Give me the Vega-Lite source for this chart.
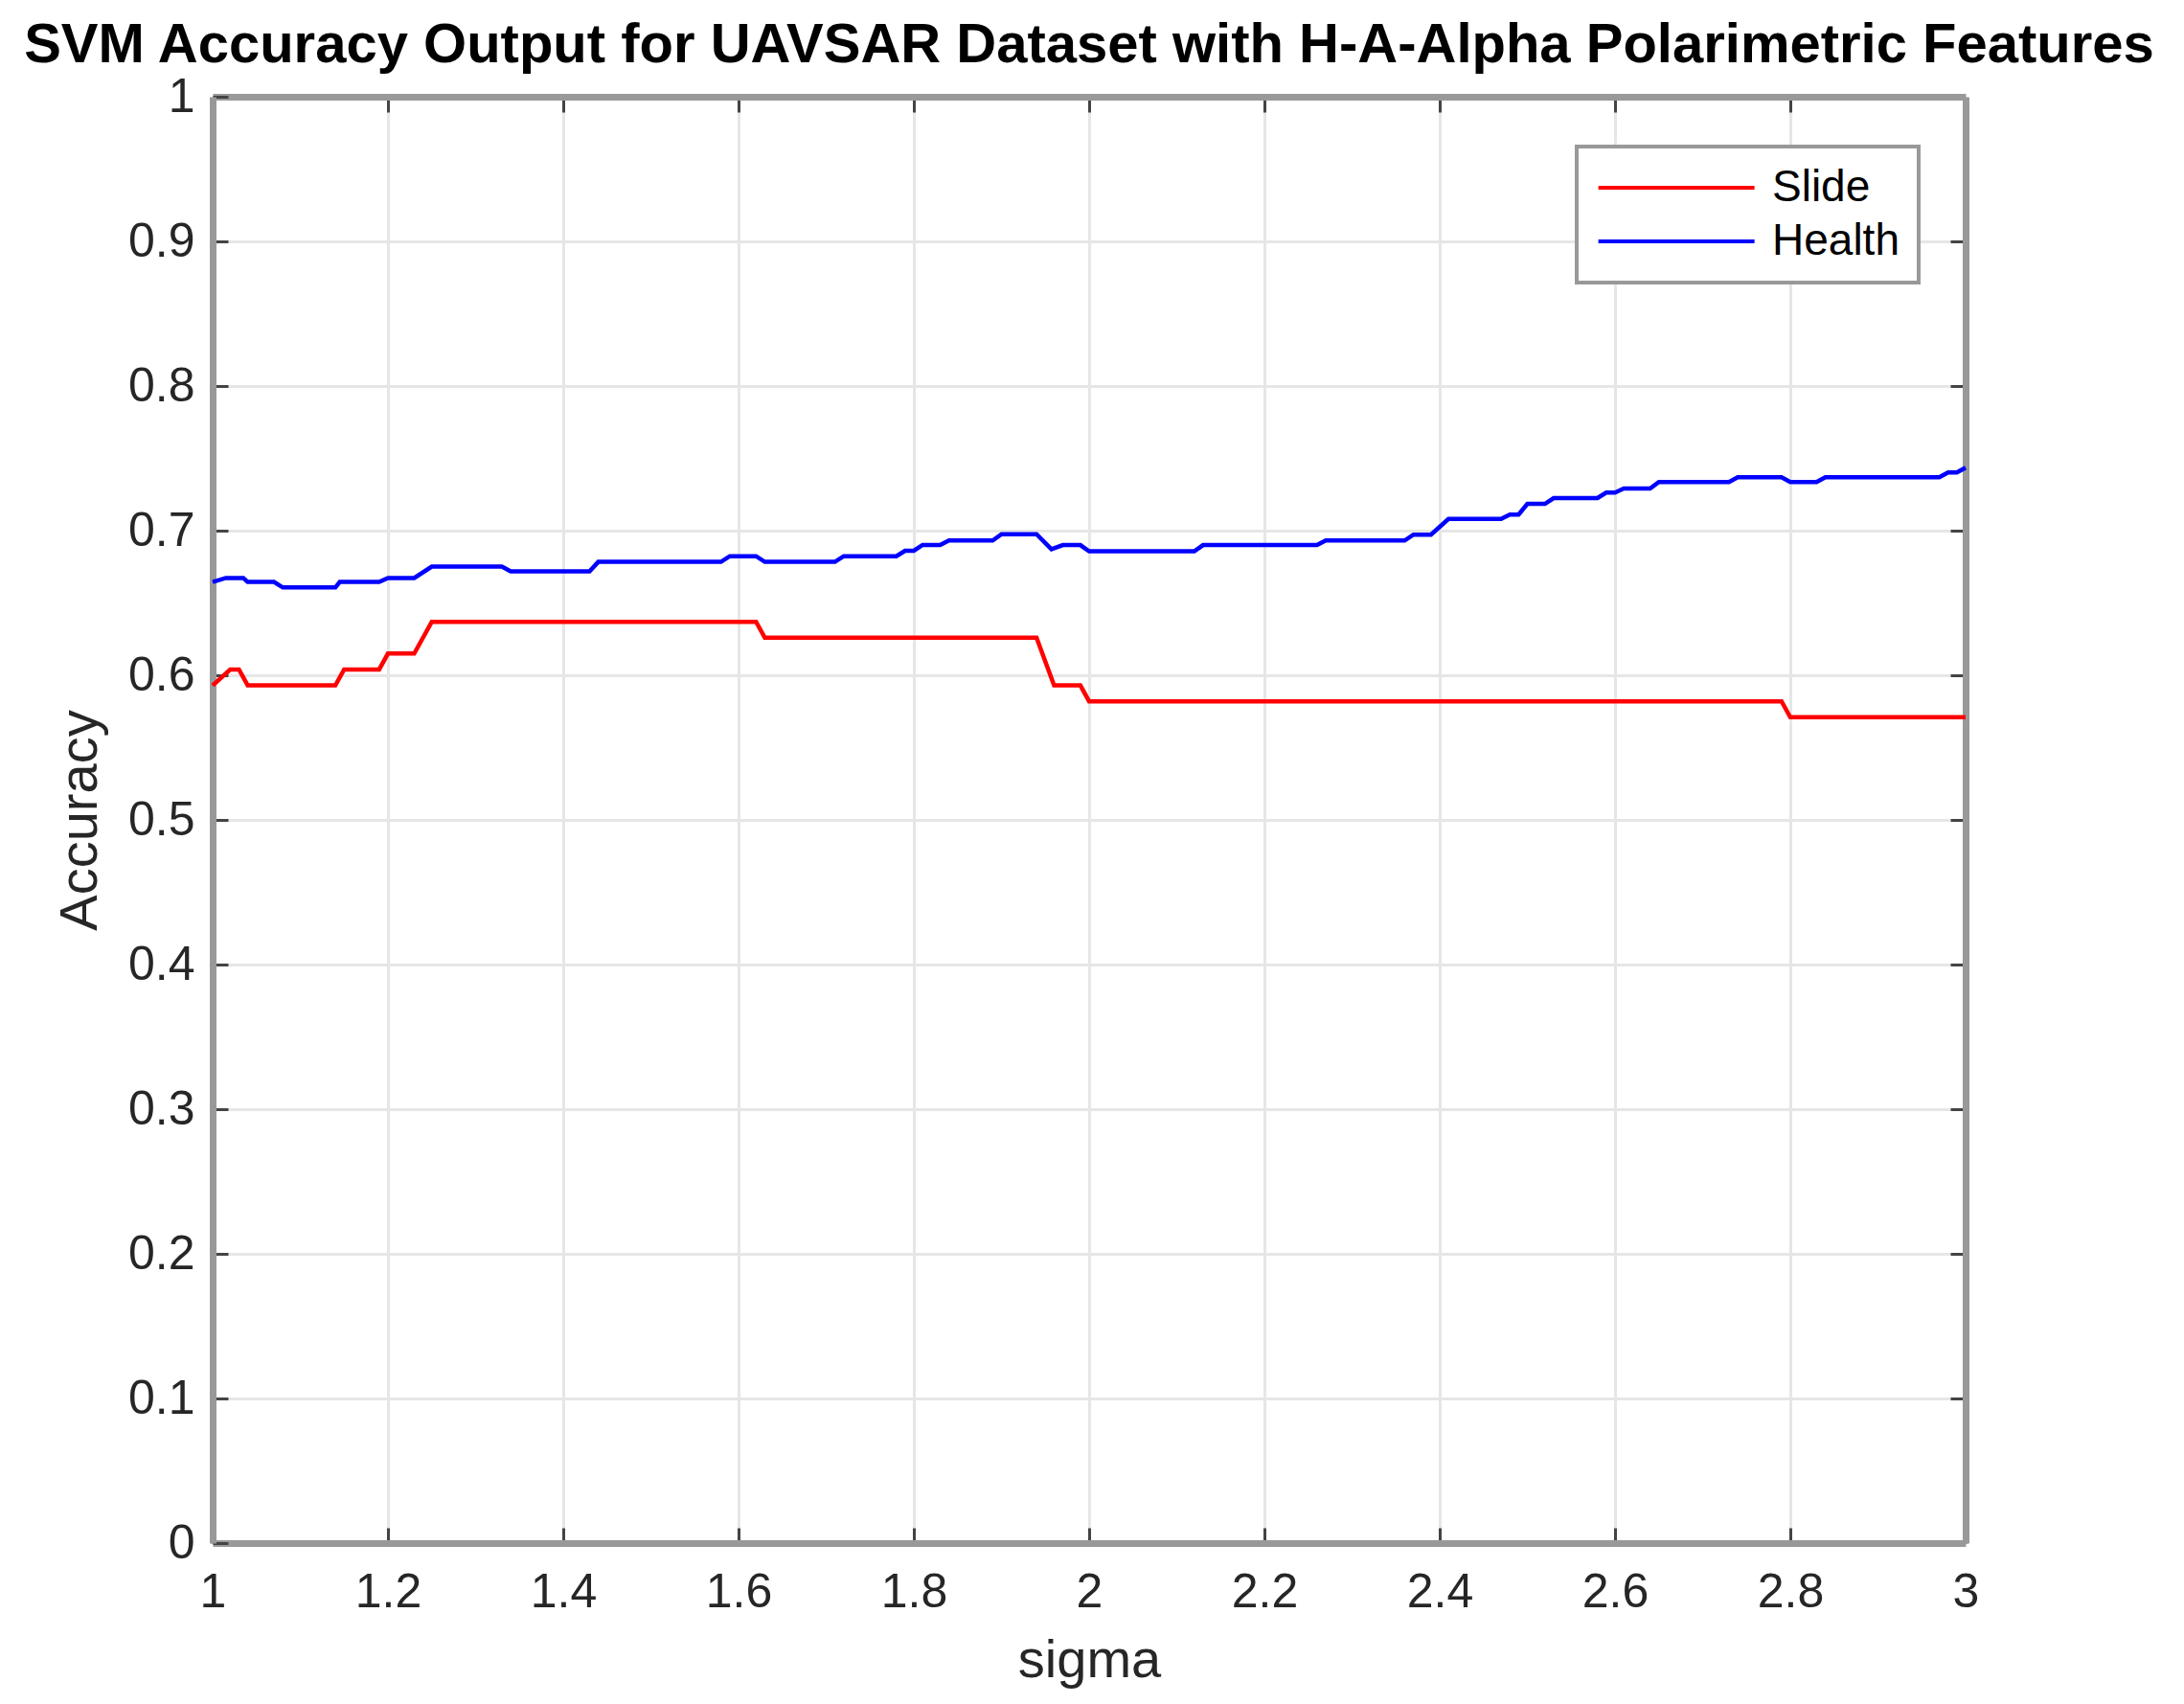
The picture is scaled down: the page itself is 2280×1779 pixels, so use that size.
{
  "$schema": "https://vega.github.io/schema/vega-lite/v6.json",
  "width": 1830,
  "height": 1510,
  "autosize": {"type": "none"},
  "padding": {"left": 222, "top": 101, "right": 228, "bottom": 168},
  "background": "white",
  "title": {
    "text": "SVM Accuracy Output for UAVSAR Dataset with H-A-Alpha Polarimetric Features",
    "font": "Liberation Sans",
    "fontSize": 58,
    "fontWeight": "bold",
    "color": "#000000",
    "anchor": "middle",
    "baseline": "alphabetic",
    "offset": -47
  },
  "data": {
    "values": [
      {"sigma": 1.00, "acc": 0.593, "series": "Slide"},
      {"sigma": 1.02, "acc": 0.604, "series": "Slide"},
      {"sigma": 1.03, "acc": 0.604, "series": "Slide"},
      {"sigma": 1.04, "acc": 0.593, "series": "Slide"},
      {"sigma": 1.14, "acc": 0.593, "series": "Slide"},
      {"sigma": 1.15, "acc": 0.604, "series": "Slide"},
      {"sigma": 1.19, "acc": 0.604, "series": "Slide"},
      {"sigma": 1.20, "acc": 0.615, "series": "Slide"},
      {"sigma": 1.23, "acc": 0.615, "series": "Slide"},
      {"sigma": 1.25, "acc": 0.637, "series": "Slide"},
      {"sigma": 1.62, "acc": 0.637, "series": "Slide"},
      {"sigma": 1.63, "acc": 0.626, "series": "Slide"},
      {"sigma": 1.94, "acc": 0.626, "series": "Slide"},
      {"sigma": 1.96, "acc": 0.593, "series": "Slide"},
      {"sigma": 1.99, "acc": 0.593, "series": "Slide"},
      {"sigma": 2.00, "acc": 0.582, "series": "Slide"},
      {"sigma": 2.79, "acc": 0.582, "series": "Slide"},
      {"sigma": 2.80, "acc": 0.571, "series": "Slide"},
      {"sigma": 3.00, "acc": 0.571, "series": "Slide"},

      {"sigma": 1.000, "acc": 0.6645, "series": "Health"},
      {"sigma": 1.015, "acc": 0.6673, "series": "Health"},
      {"sigma": 1.035, "acc": 0.6673, "series": "Health"},
      {"sigma": 1.040, "acc": 0.6645, "series": "Health"},
      {"sigma": 1.070, "acc": 0.6645, "series": "Health"},
      {"sigma": 1.080, "acc": 0.6607, "series": "Health"},
      {"sigma": 1.140, "acc": 0.6607, "series": "Health"},
      {"sigma": 1.145, "acc": 0.6645, "series": "Health"},
      {"sigma": 1.190, "acc": 0.6645, "series": "Health"},
      {"sigma": 1.200, "acc": 0.6673, "series": "Health"},
      {"sigma": 1.230, "acc": 0.6673, "series": "Health"},
      {"sigma": 1.250, "acc": 0.6751, "series": "Health"},
      {"sigma": 1.330, "acc": 0.6751, "series": "Health"},
      {"sigma": 1.340, "acc": 0.6718, "series": "Health"},
      {"sigma": 1.430, "acc": 0.6718, "series": "Health"},
      {"sigma": 1.440, "acc": 0.6784, "series": "Health"},
      {"sigma": 1.580, "acc": 0.6784, "series": "Health"},
      {"sigma": 1.590, "acc": 0.6823, "series": "Health"},
      {"sigma": 1.620, "acc": 0.6823, "series": "Health"},
      {"sigma": 1.630, "acc": 0.6784, "series": "Health"},
      {"sigma": 1.710, "acc": 0.6784, "series": "Health"},
      {"sigma": 1.720, "acc": 0.6823, "series": "Health"},
      {"sigma": 1.780, "acc": 0.6823, "series": "Health"},
      {"sigma": 1.790, "acc": 0.6861, "series": "Health"},
      {"sigma": 1.800, "acc": 0.6861, "series": "Health"},
      {"sigma": 1.810, "acc": 0.6901, "series": "Health"},
      {"sigma": 1.830, "acc": 0.6901, "series": "Health"},
      {"sigma": 1.840, "acc": 0.6932, "series": "Health"},
      {"sigma": 1.890, "acc": 0.6932, "series": "Health"},
      {"sigma": 1.900, "acc": 0.6975, "series": "Health"},
      {"sigma": 1.940, "acc": 0.6975, "series": "Health"},
      {"sigma": 1.957, "acc": 0.6872, "series": "Health"},
      {"sigma": 1.970, "acc": 0.6900, "series": "Health"},
      {"sigma": 1.990, "acc": 0.6900, "series": "Health"},
      {"sigma": 2.000, "acc": 0.6857, "series": "Health"},
      {"sigma": 2.120, "acc": 0.6857, "series": "Health"},
      {"sigma": 2.130, "acc": 0.6900, "series": "Health"},
      {"sigma": 2.260, "acc": 0.6900, "series": "Health"},
      {"sigma": 2.270, "acc": 0.6932, "series": "Health"},
      {"sigma": 2.360, "acc": 0.6932, "series": "Health"},
      {"sigma": 2.370, "acc": 0.6972, "series": "Health"},
      {"sigma": 2.390, "acc": 0.6972, "series": "Health"},
      {"sigma": 2.410, "acc": 0.7081, "series": "Health"},
      {"sigma": 2.470, "acc": 0.7081, "series": "Health"},
      {"sigma": 2.480, "acc": 0.7111, "series": "Health"},
      {"sigma": 2.490, "acc": 0.7111, "series": "Health"},
      {"sigma": 2.500, "acc": 0.7185, "series": "Health"},
      {"sigma": 2.520, "acc": 0.7185, "series": "Health"},
      {"sigma": 2.530, "acc": 0.7225, "series": "Health"},
      {"sigma": 2.580, "acc": 0.7225, "series": "Health"},
      {"sigma": 2.590, "acc": 0.7263, "series": "Health"},
      {"sigma": 2.600, "acc": 0.7263, "series": "Health"},
      {"sigma": 2.610, "acc": 0.7291, "series": "Health"},
      {"sigma": 2.640, "acc": 0.7291, "series": "Health"},
      {"sigma": 2.650, "acc": 0.7336, "series": "Health"},
      {"sigma": 2.730, "acc": 0.7336, "series": "Health"},
      {"sigma": 2.740, "acc": 0.7369, "series": "Health"},
      {"sigma": 2.790, "acc": 0.7369, "series": "Health"},
      {"sigma": 2.800, "acc": 0.7336, "series": "Health"},
      {"sigma": 2.830, "acc": 0.7336, "series": "Health"},
      {"sigma": 2.840, "acc": 0.7369, "series": "Health"},
      {"sigma": 2.970, "acc": 0.7369, "series": "Health"},
      {"sigma": 2.980, "acc": 0.7402, "series": "Health"},
      {"sigma": 2.990, "acc": 0.7402, "series": "Health"},
      {"sigma": 3.000, "acc": 0.7435, "series": "Health"}
    ]
  },
  "layer": [
    {
      "transform": [{"filter": "datum.series === 'Slide'"}],
      "mark": {"type": "line", "strokeWidth": 4.5, "interpolate": "linear"},
      "encoding": {
        "x": {
          "field": "sigma",
          "type": "quantitative",
          "scale": {"domain": [1, 3], "nice": false, "zero": false},
          "axis": {
            "orient": "bottom",
            "title": "sigma",
            "values": [1, 1.2, 1.4, 1.6, 1.8, 2, 2.2, 2.4, 2.6, 2.8, 3],
            "format": "~g",
            "labelBaseline": "alphabetic",
            "labelPadding": 82,
            "titleBaseline": "alphabetic",
            "titleX": 915,
            "titleY": 139,
            "grid": true
          }
        },
        "y": {
          "field": "acc",
          "type": "quantitative",
          "scale": {"domain": [0, 1], "nice": false, "zero": false},
          "axis": {
            "orient": "left",
            "title": "Accuracy",
            "values": [0, 0.1, 0.2, 0.3, 0.4, 0.5, 0.6, 0.7, 0.8, 0.9, 1],
            "format": "~g",
            "labelPadding": 35,
            "titleBaseline": "alphabetic",
            "titleX": -122,
            "titleY": 755,
            "grid": true
          }
        },
        "color": {
          "field": "series",
          "type": "nominal",
          "scale": {"domain": ["Slide", "Health"], "range": ["#ff0000", "#0000ff"]},
          "legend": {
            "title": null,
            "orient": "none",
            "legendX": 1424,
            "legendY": 52,
            "symbolType": "M-1,0H7",
            "symbolSize": 1660,
            "symbolStrokeWidth": 4,
            "labelFontSize": 46,
            "labelColor": "#000000",
            "labelFont": "Liberation Sans",
            "labelOffset": 138,
            "padding": 20,
            "rowPadding": 10,
            "strokeColor": "#999999",
            "fillColor": "#ffffff"
          }
        }
      }
    },
    {
      "transform": [{"filter": "datum.series === 'Health'"}],
      "mark": {"type": "line", "strokeWidth": 4.5, "interpolate": "linear"},
      "encoding": {
        "x": {
          "field": "sigma",
          "type": "quantitative",
          "scale": {"domain": [1, 3], "nice": false, "zero": false},
          "axis": {
            "orient": "top",
            "title": null,
            "labels": false,
            "grid": false,
            "values": [1.2, 1.4, 1.6, 1.8, 2, 2.2, 2.4, 2.6, 2.8]
          }
        },
        "y": {
          "field": "acc",
          "type": "quantitative",
          "scale": {"domain": [0, 1], "nice": false, "zero": false},
          "axis": {
            "orient": "right",
            "title": null,
            "labels": false,
            "grid": false,
            "values": [0.1, 0.2, 0.3, 0.4, 0.5, 0.6, 0.7, 0.8, 0.9]
          }
        },
        "color": {"field": "series", "type": "nominal"}
      }
    }
  ],
  "resolve": {"axis": {"x": "independent", "y": "independent"}},
  "config": {
    "font": "Liberation Sans",
    "view": {"stroke": null},
    "legend": {"strokeWidth": 4},
    "axis": {
      "domain": true,
      "domainColor": "#999999",
      "domainWidth": 7,
      "ticks": true,
      "tickSize": -16,
      "tickWidth": 3,
      "tickColor": "#444444",
      "gridColor": "#e6e6e6",
      "gridWidth": 3,
      "labelFont": "Liberation Sans",
      "labelFontSize": 50,
      "labelColor": "#262626",
      "titleFont": "Liberation Sans",
      "titleFontSize": 56,
      "titleFontWeight": "normal",
      "titleColor": "#262626",
      "labelFlush": false,
      "labelOverlap": false
    }
  }
}
